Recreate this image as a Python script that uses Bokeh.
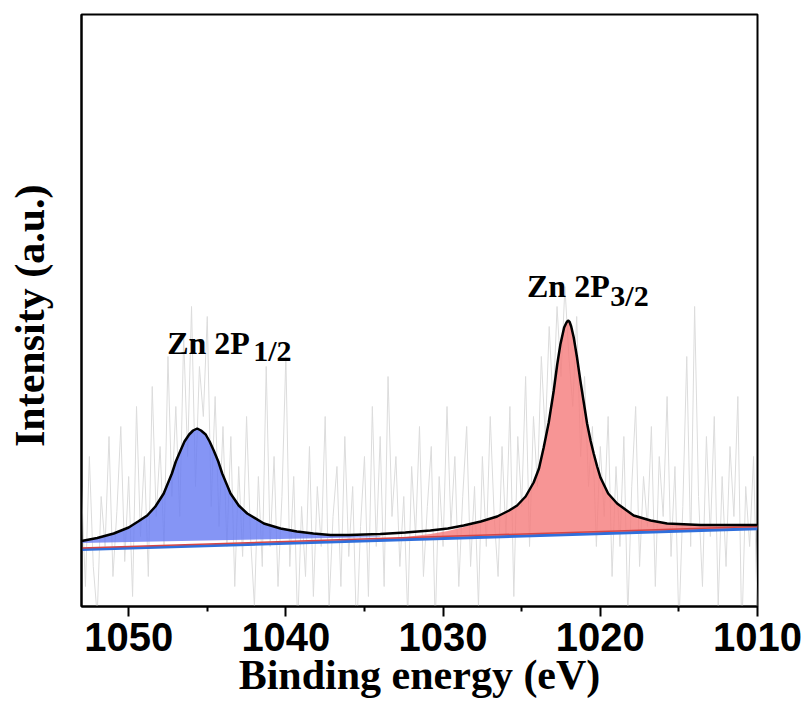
from bokeh.plotting import figure
from bokeh.models import Range1d, FixedTicker, Label
from bokeh.embed import file_html
from bokeh.resources import INLINE

# ---------------- data ----------------
# raw spectrum (binding energy start / step, intensity a.u.)
RAW_START = 1053.0
RAW_STEP = 0.25
RAW_I = [120, 20, 150, 40, -10, 110, 60, 170, 30, 95, 180, 45, 130, 10, 200, 70,
         150, 30, 220, 90, 160, 60, 250, 110, 200, 90, 270, 150, 300, 120, 240, 190,
         290, 100, 210, 80, 180, 60, 170, 20, 140, 50, 190, 70, 0, 130, 40, 240,
         60, 150, 20, 110, 250, 40, 130, -20, 100, 30, 160, 10, 120, 60, 190, 0,
         90, 140, 20, 170, 50, 120, -30, 80, 150, 10, 200, 60, 170, 20, 230, 90,
         150, 40, 110, -10, 140, 70, 180, 30, 100, 160, -20, 130, 60, 200, 80, 150,
         20, 110, 180, 40, 120, 0, 150, 60, 190, 90, 30, 160, 70, 200, 10, 170,
         100, 230, 60, 190, 120, 250, 170, 280, 200, 300, 230, 320, 250, 200, 290, 150,
         230, 120, 180, 60, 160, 90, 190, 30, 140, 60, 170, -10, 120, 200, 40, 130,
         80, 180, 20, 150, 90, 210, 50, 140, -20, 100, 250, 60, 300, 110, 20, 170,
         70, 190, 0, 130, 40, 160, 90, 210, -30, 120, 60, 150, -20]

# fitted envelope
ENV_EV = [1053.0, 1052.0, 1050.95, 1050.0, 1049.4, 1048.82, 1048.3, 1047.77, 1047.25,
          1047.0, 1046.7, 1046.45, 1046.15, 1045.9, 1045.64, 1045.4, 1045.1, 1044.85,
          1044.59, 1044.3, 1044.05, 1043.52, 1043.0, 1042.46,
          1041.4, 1040.34, 1039.3, 1038.25, 1037.17, 1036.0, 1033.99, 1032.4, 1030.81,
          1029.7, 1028.69, 1027.6, 1026.56, 1025.8, 1025.29, 1024.75, 1024.24, 1023.9,
          1023.6, 1023.28, 1022.96, 1022.74, 1022.54, 1022.3, 1022.15, 1022.05, 1021.95,
          1021.85, 1021.69, 1021.48, 1021.27, 1021.05, 1020.84, 1020.62, 1020.42, 1020.2,
          1019.99, 1019.5, 1018.93, 1017.88, 1016.8, 1015.75, 1013.64, 1012.0, 1010.0]
ENV_I = [65.5, 68.5, 73, 79, 85, 91, 100, 113, 133,
         145, 156, 165, 172, 176, 178, 176, 172, 165,
         156, 145, 133, 113, 101, 93,
         83, 78, 75, 73, 71.5, 71.5, 72.5, 74, 76,
         78, 81, 85, 90, 96, 101, 110, 124, 138,
         159, 184, 216, 242, 262, 279, 284, 286, 284.5,
         280, 269, 249, 226, 204, 183, 166, 153, 140,
         129, 113, 103, 91, 86, 83, 81.5, 81.5, 81.5]

# Zn 2p1/2 component (upper edge) and its own baseline
P1_EV = [1053.0, 1052.0, 1050.95, 1050.0, 1049.4, 1048.82, 1048.3, 1047.77, 1047.25,
         1047.0, 1046.7, 1046.45, 1046.15, 1045.9, 1045.64, 1045.4, 1045.1, 1044.85,
         1044.59, 1044.3, 1044.05, 1043.52, 1043.0, 1042.46,
         1041.4, 1040.34, 1039.3, 1038.25, 1037.17, 1036.0, 1033.99]
P1_I = [65.5, 68.5, 73, 79, 85, 91, 100, 113, 133,
        145, 156, 165, 172, 176, 178, 176, 172, 165,
        156, 145, 133, 113, 101, 93,
        83, 78, 74.5, 72.5, 71, 70.5, 70]
P1_BASE_EV = [1033.99, 1053.0]
P1_BASE_I = [69.5, 63.5]

# Zn 2p3/2 component (upper edge) and its baseline
P2_EV = [1034.0, 1032.4, 1030.81, 1029.7, 1028.69, 1027.6, 1026.56, 1025.8, 1025.29,
         1024.75, 1024.24, 1023.9, 1023.6, 1023.28, 1022.96, 1022.74, 1022.54, 1022.3,
         1022.15, 1022.05, 1021.95, 1021.85, 1021.69, 1021.48, 1021.27, 1021.05,
         1020.84, 1020.62, 1020.42, 1020.2, 1019.99, 1019.5, 1018.93, 1017.88, 1016.8,
         1015.75, 1013.64, 1012.0, 1010.0]
P2_I = [67.5, 69.5, 72.5, 75.5, 79.5, 84.5, 90, 96, 101,
        110, 124, 138, 159, 184, 216, 242, 262, 279,
        284, 286, 284.5, 280, 269, 249, 226, 204,
        183, 166, 153, 140, 129, 113, 103, 91, 86,
        83, 81.5, 81.5, 81.5]
P2_BASE_EV = [1010.0, 1034.0]
P2_BASE_I = [77.7, 66.1]

# background lines
BASE_EV = [1053.0, 1010.0]
BLUE_BASE = [57.0, 77.7]
RED_BASE = [58.5, 80.0]

# tick values
MAJOR_TICKS = [1050, 1040, 1030, 1020, 1010]
MINOR_TICKS = [1045, 1035, 1025, 1015]

# annotations: (text, x, y, size)
ANNOT_TEXT = ["Zn 2P", "1/2", "Zn 2P", "3/2"]
ANNOT_X = [1047.55, 1042.08, 1024.66, 1019.36]
ANNOT_Y = [263.3, 256.0, 321.0, 311.0]
ANNOT_SIZE = ["32px", "30px", "32px", "30px"]

# ---------------- figure ----------------
raw_ev = [RAW_START - RAW_STEP * i for i in range(len(RAW_I))]

p = figure(width=810, height=711, output_backend="svg", toolbar_location=None,
           x_range=Range1d(1053.0, 1010.0), y_range=Range1d(0, 592),
           min_border_left=81, min_border_right=53, min_border_top=14,
           min_border_bottom=105)
p.background_fill_color = "white"
p.border_fill_color = "white"
p.outline_line_color = "black"
p.outline_line_width = 2
p.grid.visible = False

# raw data
p.line(raw_ev, RAW_I, line_color="#dcdcdc", line_width=1)

# component fills
p.patch(P1_EV + P1_BASE_EV, P1_I + P1_BASE_I, fill_color="#667af2", fill_alpha=0.8,
        line_color=None)
p.patch(P2_EV + P2_BASE_EV, P2_I + P2_BASE_I, fill_color="#f57a7a", fill_alpha=0.8,
        line_color=None)

# baselines
p.line(BASE_EV, BLUE_BASE, line_color="#2f6fdc", line_width=3)
p.line(BASE_EV, RED_BASE, line_color="#d64545", line_width=1.5)

# envelope
p.line(ENV_EV, ENV_I, line_color="black", line_width=2.5)

# annotations
for t, x, y, s in zip(ANNOT_TEXT, ANNOT_X, ANNOT_Y, ANNOT_SIZE):
    p.add_layout(Label(x=x, y=y, text=t, text_font="Liberation Serif",
                       text_font_style="bold", text_font_size=s,
                       text_baseline="alphabetic", text_align="left",
                       text_color="black"))

# x axis
xa = p.xaxis[0]
xa.ticker = FixedTicker(ticks=MAJOR_TICKS, minor_ticks=MINOR_TICKS)
xa.axis_line_width = 2
xa.axis_line_color = "black"
xa.major_tick_out = 10
xa.major_tick_in = 0
xa.minor_tick_out = 5
xa.minor_tick_in = 0
xa.major_tick_line_width = 2
xa.minor_tick_line_width = 2
xa.major_label_text_font = "Liberation Sans"
xa.major_label_text_font_style = "bold"
xa.major_label_text_font_size = "40px"
xa.major_label_text_color = "black"
xa.major_label_standoff = 6
xa.axis_label = "Binding energy (eV)"
xa.axis_label_text_font = "Liberation Serif"
xa.axis_label_text_font_style = "bold"
xa.axis_label_text_font_size = "42px"
xa.axis_label_text_color = "black"
xa.axis_label_standoff = -2

# y axis
ya = p.yaxis[0]
ya.ticker = FixedTicker(ticks=[])
ya.axis_line_width = 2
ya.axis_line_color = "black"
ya.major_tick_out = 0
ya.major_tick_in = 0
ya.minor_tick_out = 0
ya.minor_tick_in = 0
ya.major_label_text_font_size = "0px"
ya.axis_label = "Intensity (a.u.) "
ya.axis_label_text_font = "Liberation Serif"
ya.axis_label_text_font_style = "bold"
ya.axis_label_text_font_size = "42px"
ya.axis_label_text_color = "black"
ya.axis_label_standoff = 29

open("out.html", "w").write(file_html(p, INLINE))
